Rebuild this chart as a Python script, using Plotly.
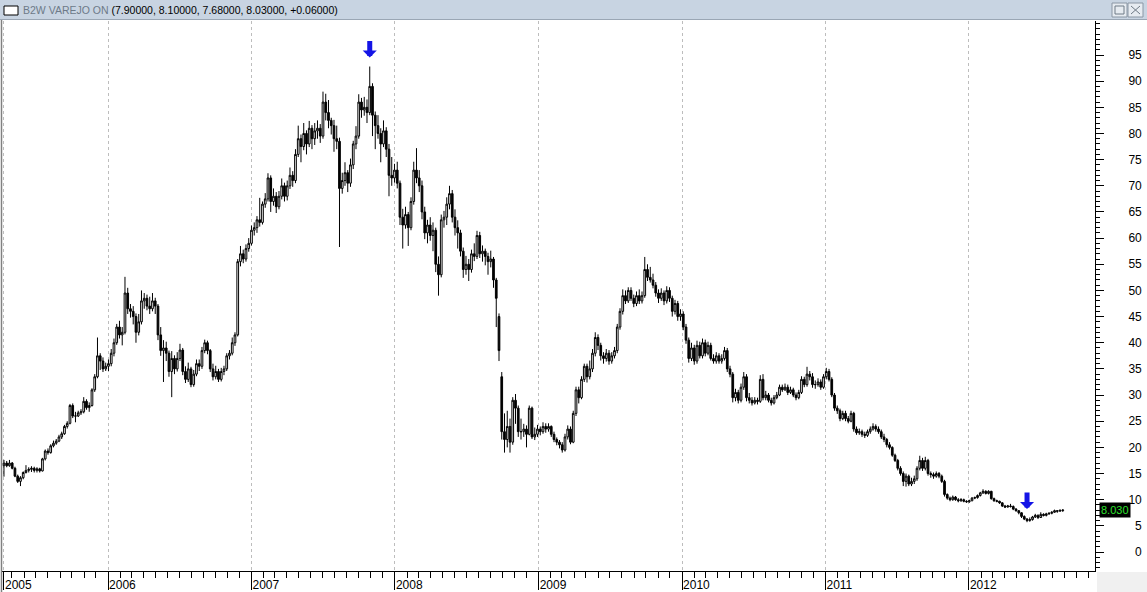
import plotly.graph_objects as go
import pandas as pd

# ---------------- data (weekly candles) ----------------
SYMBOL = "B2W VAREJO ON"
START = "2005-04-11"          # first weekly bar
YEAR_LABELS = ["2005", "2006", "2007", "2008", "2009", "2010", "2011", "2012"]
PRICE_TICKS = [0, 5, 10, 15, 20, 25, 30, 35, 40, 45, 50, 55, 60, 65, 70, 75, 80, 85, 90, 95]
ARROW_BARS = [133, 372]       # bars marked with the blue arrows

OPEN = [
    # 2005
    16.5,17,16.5,17,16,14.5,13.5,14.2,15.2,15.6, 15.8,16,15.6,15.9,15.5,17.8,19.3,19,20.3,20.8,
    21.2,22,22.6,24,24.6,28,26,26,26.6,26.8, 28.8,27.6,28,31,33.5,37.5,36.5,35,
    # 2006
    35.5,36,38,40,43,41.5,42,49.5,46.5,46, 45,42,44,48,48.5,47,46.5,48,47,41.5,
    38.5,39,38,34.5,37,35,37,38.6,34.5,33, 35,32,34,36,35.5,38.5,40,38.5,35,33.5,
    34.5,33,34.5,35,37.5,38,40,41.5,55.5,57, 56,58,
    # 2007
    59,61.5,62,63.5,63,66.5,67.5,71.5,67,68, 66,68,70,68,70,72,71,76,79,77.5,
    80,78,81,79,80.5,81,79.5,86,84,82.5, 81.5,79,78.5,69.5,71,72.5,70.5,74,78,79.5,
    86,84.5,85,84,89,83.5,81.5,80,78,80.5, 77,72,
    # 2008
    71.5,73,70.5,64,62.5,64.5,62,67,73,71.5, 70,65,61,62.5,60.5,61.5,55,53,63.5,64,
    66.5,68.5,64,62,61,57.5,54,55,54,57, 56.5,60.5,57,57.5,56.5,55.5,56,52,45,33.5,
    23,21.5,24,21,29,27.5,23,23,23.5,22.5, 27.5,22,
    # 2009
    22.5,23.5,23,24,23.5,24,22.5,21.5,21,20.5, 19.5,22,23.5,21,26.5,31,29.5,33,35.5,33.5,
    35,38,41,39.5,37.5,37,38,36.5,37.5,38.5, 43,46,49,48,50,48.5,47.5,49,48,49,
    54,52.5,52,51,49.5,48.5,49.5,48,50,48.5, 46,47.5,
    # 2010
    45,45.5,43,40.5,37,39,36.5,39.5,37.5,40, 38,39.5,37,36.5,37.5,36.5,37,38.5,35,34,
    29.5,30.5,29,31.5,33.5,29.5,29,28.5,29,28.8, 33,29.5,30,29,28.5,29.5,30,31.5,31,31.5,
    30.5,31,30,29.5,30.5,33,32,34,33.5,32, 32,32.5,
    # 2011
    31.5,33.5,34.5,33,30,27.5,27,25.5,26.5,25.5, 25,26.5,23.5,22.8,23,22.5,22.3,23,23.5,24,
    23.5,23,22,21.5,20.5,20,18.5,17.5,16,15, 13.5,14.5,13,13.5,14,16,17.5,16,17.5,15,
    14.8,14.5,15,14.5,13.5,11,10.3,10,10.5,10, 9.8,10,
    # 2012
    9.7,9.6,9.8,10.3,10.4,10.8,11.3,11.6,11.2,11.6, 10.2,9.8,9.7,9.4,8.8,8.6,8.8,8.7,8.2,7.9,
    7.5,6.8,6.3,6,6.2,6.7,7,6.6,7.2,7, 7.3,7.4,7.6,7.9,7.8,7.9,
]

HIGH = [
    # 2005
    17.6,17.4,17.6,17.2,16.3,14.8,14.5,15.4,16.6,16.2, 16.4,16.3,16.2,16.1,18,19.6,19.8,20.6,21.3,21.6,
    22.4,23,24.3,25,28.3,28.4,26.8,27,27.3,29.6, 29.2,28.6,31.3,34,41,38,37.2,36.2,
    # 2006
    36.8,38.8,40.8,43.6,44.2,43,52.6,50.5,47.4,47, 45.6,45.5,50,49.5,49.2,48.8,49.5,48.6,47.4,43,
    40.5,40.2,38.5,38.4,37.6,38.2,39.8,39,35.5,36.2, 35.4,34.8,36.8,36.8,39.2,40.6,40.4,38.8,36,35.6,
    35,35.2,35.6,38,38.6,41,42,56,58.5,57.8, 58.8,60,
    # 2007
    62.4,63,64.2,67.7,67,68.6,72.4,72,69.5,68.8, 69,71.4,70.6,71,73.5,72.8,77,81.5,79.8,82,
    80.6,82.4,81.6,82,82.5,81.8,88,87.6,86.4,83, 82.6,81.5,79.2,72.5,74.5,73,75.2,78.6,81.4,87.5,
    86.8,87,86.5,92.8,89.6,84.2,83.5,81,82.5,81.2, 78,75.5,
    # 2008
    74.2,74.6,71,65.6,66,65,67.8,74.6,77.2,73, 71,66,63.5,64,63,62,56.5,64.5,65.2,67.8,
    70,69.2,65.5,63.4,61.6,58.2,56.6,56,57.8,59, 61.4,61.2,58.6,58,57.2,57.6,56.4,52.4,45.6,34.4,
    26.5,27,25.5,29.6,30.2,28,25.5,24.5,24.2,28, 27.8,23.8,
    # 2009
    24.3,24,24.8,24.6,24.6,24.2,23,21.9,21.4,21, 22.6,24.2,24,27,31.6,31.6,33.6,36,36,36.6,
    38.8,42,41.6,40,38.2,38.8,38.6,38.2,39.2,43.6, 46.6,50.2,50,50.6,50.6,49.2,49.8,50.2,49.8,56.4,
    55,54.5,53.2,51.6,50.2,50.4,50,50.8,50.6,49, 48.2,48,
    # 2010
    46.4,46,43.6,41,40,39.6,40.4,40.2,40.8,40.6, 40.2,40,37.8,38.2,38,37.8,39.2,39,35.6,34.4,
    31.2,31,32.2,34.4,34,30.4,29.6,29.6,29.5,33.8, 34,30.8,30.4,29.5,30,30.6,32,32,32.2,32,
    31.6,31.4,30.5,31,33.6,33.5,35.4,34.6,34.2,32.8, 33.2,33,
    # 2011
    34,35.2,35,33.4,30.4,28,27.4,27,27,26, 27,26.8,24,23.6,23.4,23,23.4,24,24.6,24.4,
    24,23.4,22.6,21.8,21,20.2,18.8,17.8,16.4,15.4, 15,14.8,14.2,14.6,16.4,18.4,18,18.2,17.8,15.4,
    15.2,15.4,15.3,14.8,13.8,11.2,10.6,10.8,10.7,10.3, 10.3,10.2,
    # 2012
    9.9,10,10.5,10.6,11,11.5,12,11.8,11.8,11.7, 10.4,10,9.8,9.5,9,9,9.2,8.9,8.4,8,
    7.6,7,6.5,6.6,6.9,7.3,7.2,7.6,7.4,7.5, 7.6,7.8,8.1,8,8.1,8.1,
]

LOW = [
    # 2005
    14.4,16.2,16.3,15.8,14.3,13.2,12.6,13.9,15,15.2, 15.3,15.2,15.2,15.2,15.4,17.5,18.6,18.8,20,20.5,
    21,21.6,22.4,23.6,24.4,25.6,24.8,25.8,26.2,26.5, 27.2,26.8,27.8,30.6,33.2,34.8,34.4,34.6,
    # 2006
    34.6,35.5,37.4,39.6,40.8,39.5,41.6,45.5,44.8,43.5, 40,41.4,43.5,46.5,46.2,45.5,46,45.5,40.5,37.5,
    32.5,36.5,33.5,29.6,34,34.5,36.5,33.8,32.3,32.5, 31.5,31.6,33.6,34.6,35,38,37.8,34.4,32.8,33,
    32.5,32.6,33.8,34.6,36.8,37.6,39.4,41.2,54.6,55.2, 55.5,57.4,
    # 2007
    58.6,60.5,61,62.2,62.6,65.8,67,65,66.2,64.8, 65.5,67.4,67,67.2,69.4,69.8,70.5,75.5,74.5,76.8,
    76,77.4,77,77.8,79,78.2,79,82.5,81,79.8, 76.5,77,58.3,68.5,70,68.8,69.8,73.2,77,79,
    83,83.4,82,83.5,79.5,77,79,74.5,77.4,75.5, 68,70,
    # 2008
    70.6,69.5,62.5,58,61.8,58.5,61.5,66.4,70.5,68.8, 63.6,59.8,59,59.5,57.5,53.5,49,52.5,62,62.5,
    65.5,63,60.5,58,56.5,52.4,53,51.8,53.4,55.6, 56,56.2,55.5,54.8,53,54.4,50.5,43,36.5,21.5,
    19,20,19,20.5,24.5,22,21.5,22,20,22.3, 21.6,21.4,
    # 2009
    22,22.3,22.6,22.8,23,22,21,20.4,19.8,19, 19.2,21.5,20.6,20.8,26,28.4,29.2,32.5,32.4,33,
    34.4,37.4,38.6,36.6,36,36.4,35.8,36,37,38, 42.5,45.4,47.4,47.6,48,46.8,47,47.4,47.5,48.6,
    51.8,51.5,50.4,48.8,47.6,48,47.2,47.5,47.8,45, 45.4,44.2,
    # 2010
    44.2,42.4,39.8,36.2,36.5,35.8,36,37,37,37.4, 37.6,36.6,36,36,36,36,36.6,34.4,33.4,28.6,
    28.8,28.4,28.6,31,28.8,28.4,28,28.2,28.2,28.5, 29,29,28.6,28,28.2,29.2,29.8,30.6,30.8,30,
    30.2,29.6,29,29.2,30.2,31.5,31.6,32.8,31.4,31.2, 31.6,31,
    # 2011
    31.2,33,32.6,29.6,27,26.4,25,25.2,25,24.6, 24.8,23,22.4,22.4,22,21.8,22,22.6,23.2,23,
    22.6,21.6,21,20,19.6,18.2,17.2,15.6,14.6,12.6, 12.5,12.6,12.6,13,13.6,15.6,15.5,15.6,14.6,14.2,
    14,14.2,14.1,13.2,10.6,10,9.7,9.8,9.8,9.5, 9.6,9.5,
    # 2012
    9.4,9.4,9.7,10.1,10.2,10.6,11.1,11,11,10, 9.6,9.5,9.2,8.6,8.4,8.5,8.5,8,7.7,7.2,
    6.5,6.1,5.7,5.8,6,6.5,6.3,6.5,6.8,6.8, 7.1,7.2,7.5,7.5,7.7,7.68,
]

CLOSE = [
    # 2005
    17,16.5,17,16,14.5,13.5,14.2,15.2,15.6,15.8, 16,15.6,15.9,15.5,17.8,19.3,19,20.3,20.8,21.2,
    22,22.6,24,24.6,28,26,26,26.6,26.8,28.8, 27.6,28,31,33.5,37.5,36.5,35,35.5,
    # 2006
    36,38,40,43,41.5,42,49.5,46.5,46,45, 42,44,48,48.5,47,46.5,48,47,41.5,38.5,
    39,38,34.5,37,35,37,38.6,34.5,33,35, 32,34,36,35.5,38.5,40,38.5,35,33.5,34.5,
    33,34.5,35,37.5,38,40,41.5,55.5,57,56, 58,59,
    # 2007
    61.5,62,63.5,63,66.5,67.5,71.5,67,68,66, 68,70,68,70,72,71,76,79,77.5,80,
    78,81,79,80.5,81,79.5,86,84,82.5,81.5, 79,78.5,69.5,71,72.5,70.5,74,78,79.5,86,
    84.5,85,84,89,83.5,81.5,80,78,80.5,77, 72,71.5,
    # 2008
    73,70.5,64,62.5,64.5,62,67,73,71.5,70, 65,61,62.5,60.5,61.5,55,53,63.5,64,66.5,
    68.5,64,62,61,57.5,54,55,54,57,56.5, 60.5,57,57.5,56.5,55.5,56,52,48.5,38.5,23,
    21.5,24,21,29,27.5,23,23,23.5,22.5,27.5, 22,22.5,
    # 2009
    23.5,23,24,23.5,24,22.5,21.5,21,20.5,19.5, 22,23.5,21,26.5,31,29.5,33,35.5,33.5,35,
    38,41,39.5,37.5,37,38,36.5,37.5,38.5,43, 46,49,48,50,48.5,47.5,49,48,49,54,
    52.5,52,51,49.5,48.5,49.5,48,50,48.5,46, 47.5,45,
    # 2010
    45.5,43,40.5,37,39,36.5,39.5,37.5,40,38, 39.5,37,36.5,37.5,36.5,37,38.5,35,34,29.5,
    30.5,29,31.5,33.5,29.5,29,28.5,29,28.8,33, 29.5,30,29,28.5,29.5,30,31.5,31,31.5,30.5,
    31,30,29.5,30.5,33,32,34,33.5,32,32, 32.5,31.5,
    # 2011
    33.5,34.5,33,30,27.5,27,25.5,26.5,25.5,25, 26.5,23.5,22.8,23,22.5,22.3,23,23.5,24,23.5,
    23,22,21.5,20.5,20,18.5,17.5,16,15,13.5, 14.5,13,13.5,14,16,17.5,16,17.5,15,14.8,
    14.5,15,14.5,13.5,11,10.3,10,10.5,10,9.8, 10,9.7,
    # 2012
    9.6,9.8,10.3,10.4,10.8,11.3,11.6,11.2,11.6,10.2, 9.8,9.7,9.4,8.8,8.6,8.8,8.7,8.2,7.9,7.5,
    6.8,6.3,6,6.2,6.7,7,6.6,7.2,7,7.3, 7.4,7.6,7.9,7.8,7.97,8.03,
]

assert len(OPEN) == len(HIGH) == len(LOW) == len(CLOSE)

# ---------------- geometry helpers ----------------
W, H = 1147, 592
ML, MR, MT, MB = 2, 52, 21, 21
PW, PH = W - ML - MR, H - MT - MB


def px(x):
    return (x - ML) / PW


def py(y):
    return (H - MB - y) / PH


FONT = "Liberation Sans, Arial, sans-serif"

dates = pd.date_range(START, periods=len(CLOSE), freq="7D")

fig = go.Figure(
    go.Candlestick(
        x=dates, open=OPEN, high=HIGH, low=LOW, close=CLOSE,
        increasing=dict(line=dict(color="black", width=1), fillcolor="white"),
        decreasing=dict(line=dict(color="black", width=1), fillcolor="black"),
        whiskerwidth=0, showlegend=False, hoverinfo="skip",
    )
)

tickvals = [dates[0]] + [pd.Timestamp(f"{y}-01-01") for y in YEAR_LABELS[1:]]

fig.update_layout(
    width=W, height=H,
    margin=dict(l=ML, r=MR, t=MT, b=MB, pad=0, autoexpand=False),
    paper_bgcolor="white", plot_bgcolor="white",
    font=dict(family=FONT, size=12, color="black"),
    hovermode=False, showlegend=False,
    boxgap=0.12,
    xaxis=dict(
        type="date", range=["2005-04-06", "2012-11-17"], automargin=False,
        rangeslider=dict(visible=False),
        tickmode="array", tickvals=tickvals, ticktext=YEAR_LABELS,
        ticks="outside", ticklen=18, tickwidth=1, tickcolor="black",
        ticklabelposition="outside right", ticklabelstandoff=3,
        tickfont=dict(size=12, color="black", family=FONT),
        showline=True, linecolor="black", linewidth=1,
        showgrid=True, gridcolor="#bdbdbd", griddash="3px,3px", gridwidth=1,
        zeroline=False,
        minor=dict(tick0="2005-01-01", dtick="M1", ticks="outside", ticklen=6,
                   tickcolor="black", tickwidth=1, showgrid=False),
    ),
    yaxis=dict(
        side="right", range=[-3.63, 101.5], automargin=False,
        tickmode="array", tickvals=PRICE_TICKS,
        ticktext=[f"\u2007{v}" if v < 10 else str(v) for v in PRICE_TICKS],
        ticks="outside", ticklen=8, tickwidth=1, tickcolor="black",
        showline=True, linecolor="black", linewidth=1,
        showgrid=False, zeroline=False,
        tickfont=dict(size=12, color="black", family=FONT),
        ticklabelstandoff=22,
        minor=dict(tick0=0, dtick=1, ticks="outside", ticklen=4, tickcolor="black", tickwidth=1),
    ),
)

shapes = []
# title bar
shapes.append(dict(type="rect", xref="paper", yref="paper", x0=px(0), x1=px(W), y0=py(19), y1=py(0),
                   fillcolor="#c8d4e2", line=dict(width=0), layer="above"))
shapes.append(dict(type="line", xref="paper", yref="paper", x0=px(0), x1=px(W), y0=py(19.5), y1=py(19.5),
                   line=dict(color="#9aa6b4", width=1), layer="above"))
# title icon
shapes.append(dict(type="rect", xref="paper", yref="paper", x0=px(4), x1=px(18), y0=py(15), y1=py(6),
                   fillcolor="white", line=dict(color="black", width=1), layer="above"))
# window buttons
for bx in (1112, 1128):
    shapes.append(dict(type="rect", xref="paper", yref="paper", x0=px(bx), x1=px(bx + 15), y0=py(17), y1=py(3),
                       fillcolor="#e6ebf1", line=dict(color="#8a96a4", width=1), layer="above"))
shapes.append(dict(type="rect", xref="paper", yref="paper", x0=px(1115), x1=px(1124), y0=py(14), y1=py(6),
                   fillcolor="rgba(0,0,0,0)", line=dict(color="#6f7a86", width=1), layer="above"))
shapes.append(dict(type="line", xref="paper", yref="paper", x0=px(1131), x1=px(1140), y0=py(6), y1=py(14),
                   line=dict(color="#6f7a86", width=1), layer="above"))
shapes.append(dict(type="line", xref="paper", yref="paper", x0=px(1131), x1=px(1140), y0=py(14), y1=py(6),
                   line=dict(color="#6f7a86", width=1), layer="above"))
# left window edge
shapes.append(dict(type="line", xref="paper", yref="paper", x0=px(1.5), x1=px(1.5), y0=py(20), y1=py(H),
                   line=dict(color="#808080", width=1.5), layer="above"))
# bottom-right corner
shapes.append(dict(type="rect", xref="paper", yref="paper", x0=px(1097), x1=px(W), y0=py(H), y1=py(572),
                   fillcolor="#f0f0f0", line=dict(width=0), layer="above"))

o, h, l, c = OPEN[-1], HIGH[-1], LOW[-1], CLOSE[-1]
chg = CLOSE[-1] - CLOSE[-2]
title = (f"<span style='color:#6d7a88'>{SYMBOL}</span> "
         f"({o:.5f}, {h:.5f}, {l:.5f}, {c:.5f}, {chg:+.5f})")

annotations = [
    dict(xref="paper", yref="paper", x=px(21), y=py(10), xanchor="left", yanchor="middle",
         text=title, showarrow=False, font=dict(size=10.5, color="black", family=FONT)),
    dict(xref="paper", yref="y", x=px(1099), y=c, xanchor="left", yanchor="middle",
         text=f"{c:.3f}", showarrow=False, bgcolor="black", borderpad=1,
         font=dict(size=11, color="#2ee02e", family=FONT)),
]
for b in ARROW_BARS:
    annotations.append(dict(x=dates[b], y=HIGH[b], xref="x", yref="y", yshift=9, text="",
                            showarrow=True, ax=0, ay=-18, arrowcolor="#1414e6",
                            arrowwidth=5, arrowhead=1, arrowsize=0.47))

fig.update_layout(shapes=shapes, annotations=annotations)
fig.write_html(
    "out.html",
    config={"displayModeBar": False, "staticPlot": True},
    post_script="document.body.style.margin='0';document.body.style.overflow='hidden';",
)
